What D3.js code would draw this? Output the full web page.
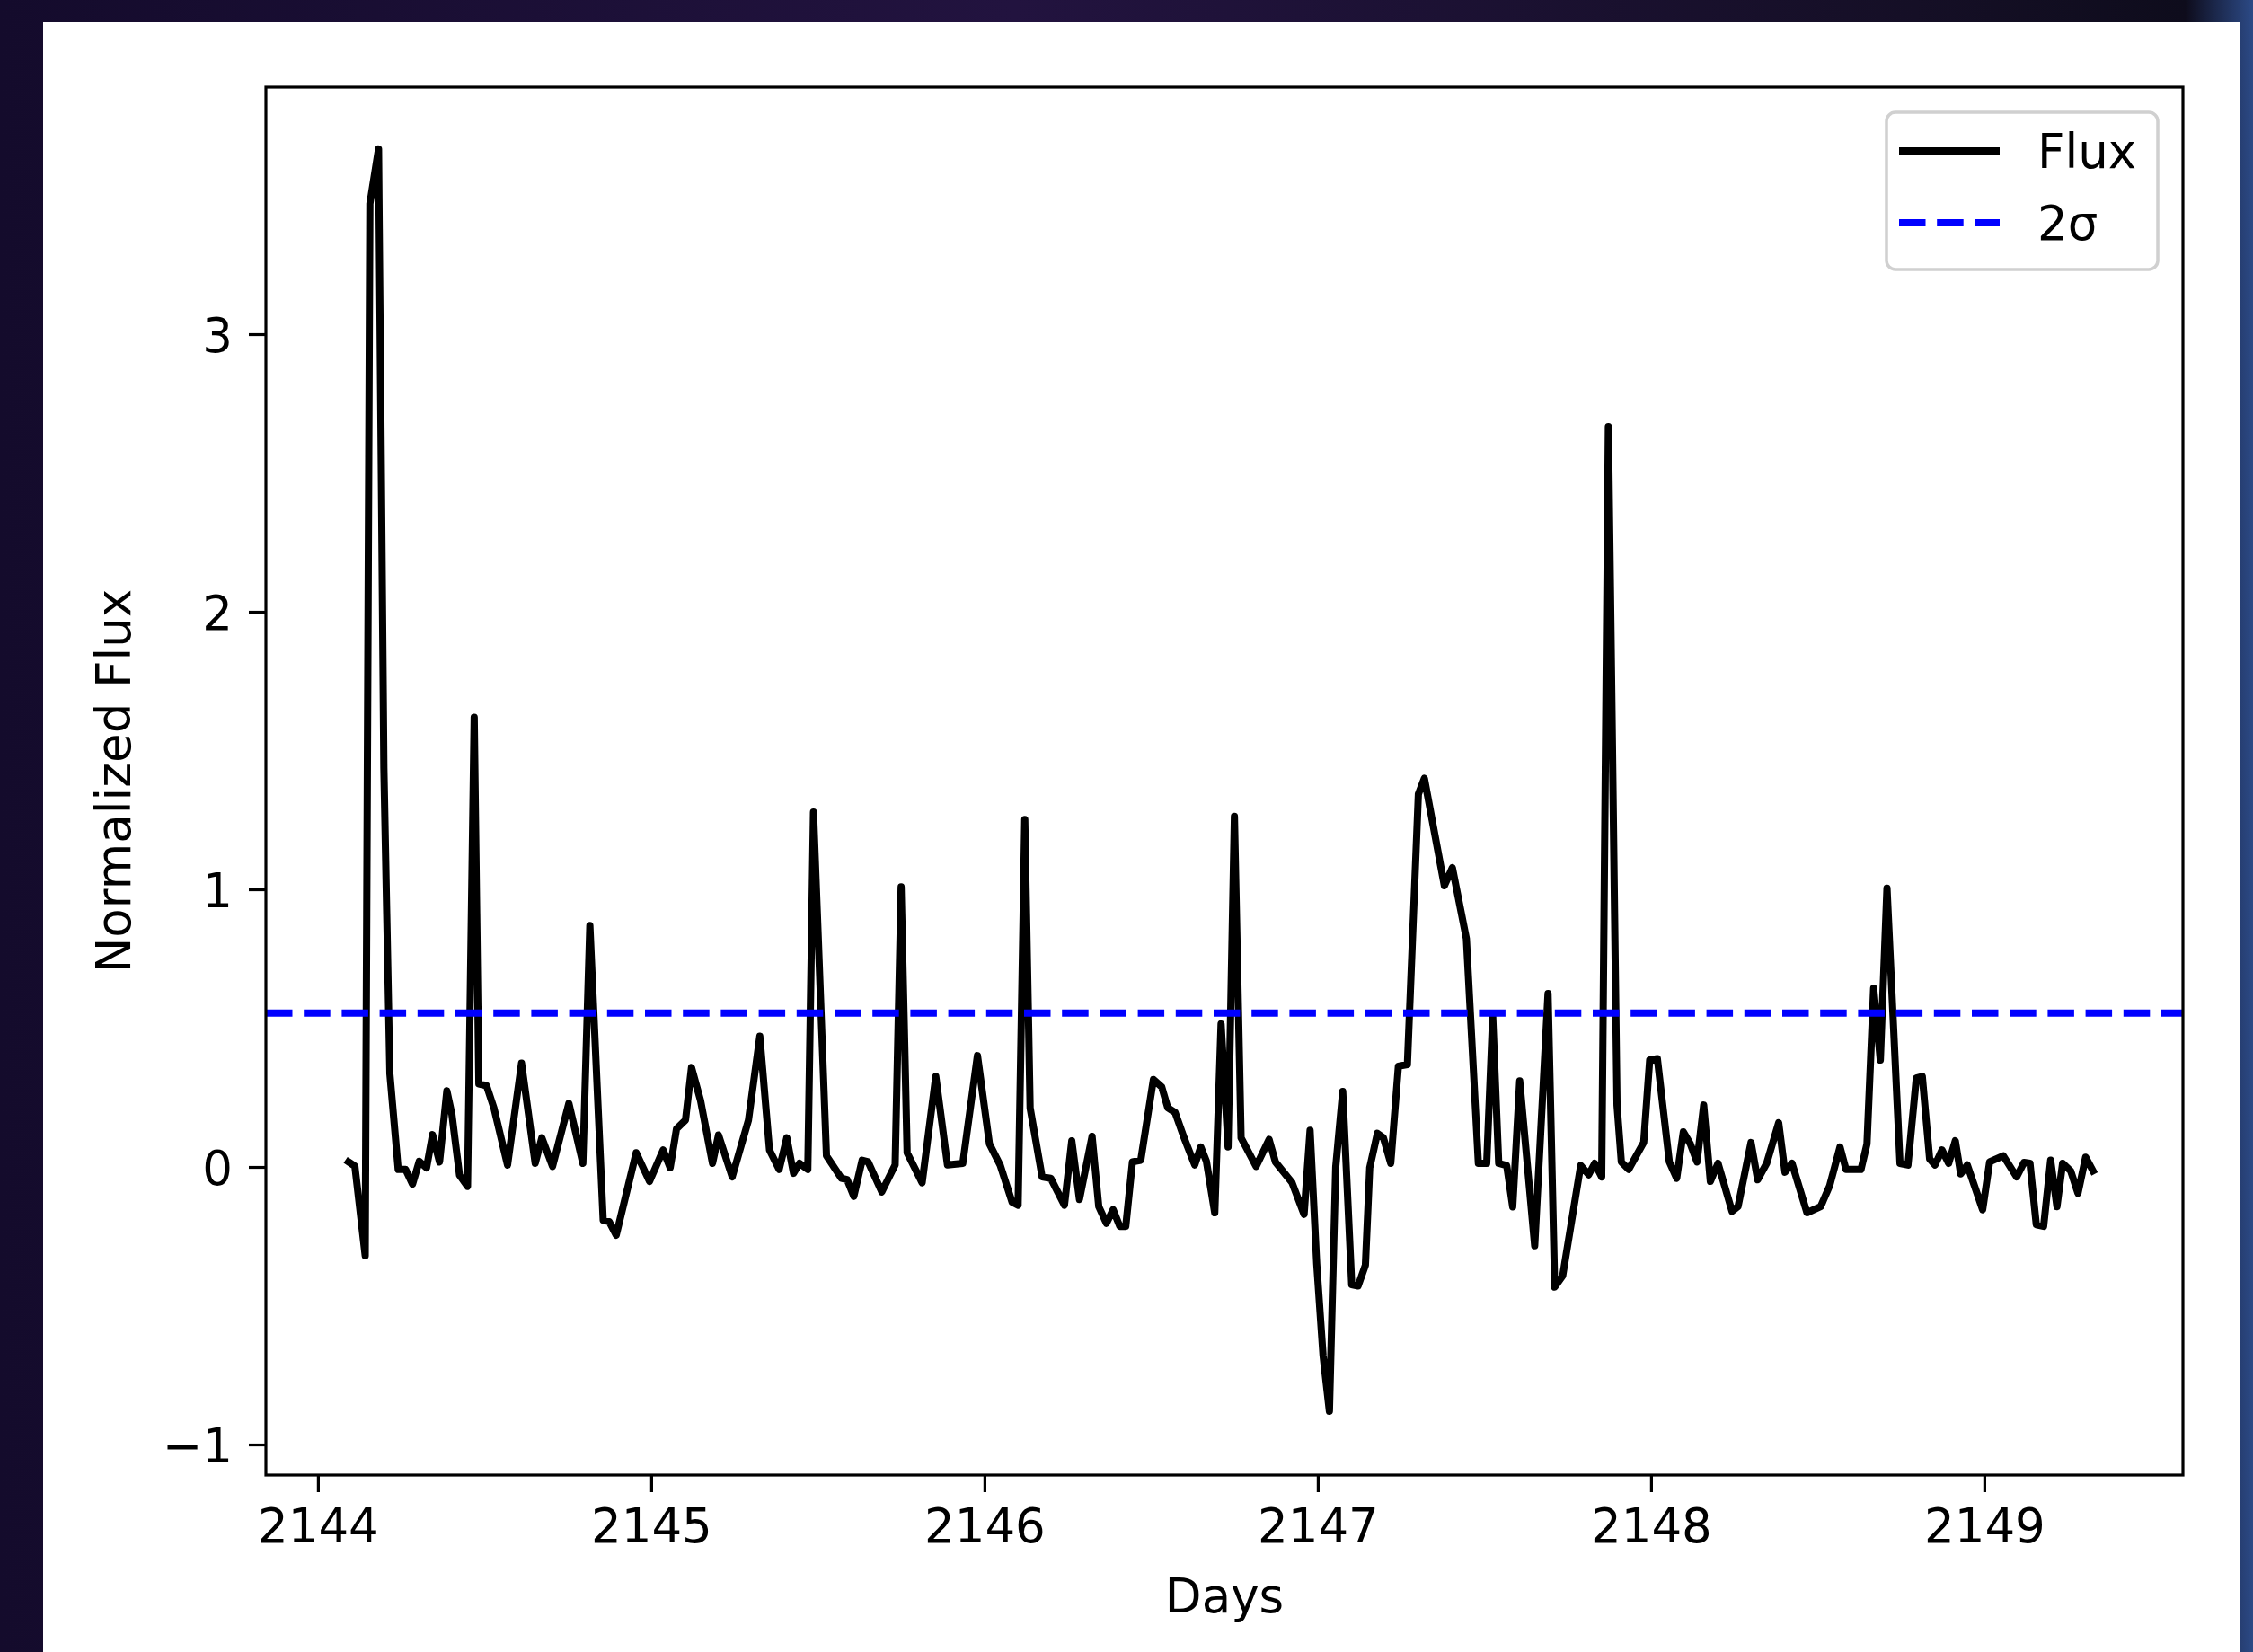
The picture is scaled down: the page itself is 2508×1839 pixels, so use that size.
<!DOCTYPE html>
<html>
<head>
<meta charset="utf-8">
<script src="https://cdn.jsdelivr.net/npm/d3@7"></script>
<style>
  html, body { margin: 0; padding: 0; background: #120b24; }
  svg { display: block; }
</style>
</head>
<body>
<svg id="chart" width="2508" height="1839"></svg>
<script>
// Light-curve samples: time (days) and normalized flux
const days = [
  2144.092, 2144.111, 2144.142, 2144.156, 2144.182, 2144.198, 2144.216, 2144.241, 2144.263, 2144.284,
  2144.304, 2144.326, 2144.344, 2144.365, 2144.387, 2144.402, 2144.425, 2144.449, 2144.469, 2144.483,
  2144.506, 2144.528, 2144.569, 2144.611, 2144.652, 2144.672, 2144.704, 2144.753, 2144.795, 2144.816,
  2144.856, 2144.874, 2144.895, 2144.955, 2144.995, 2145.036, 2145.057, 2145.076, 2145.103, 2145.121,
  2145.148, 2145.184, 2145.202, 2145.243, 2145.292, 2145.326, 2145.355, 2145.384, 2145.407, 2145.427,
  2145.445, 2145.470, 2145.487, 2145.526, 2145.571, 2145.588, 2145.608, 2145.633, 2145.651, 2145.692,
  2145.732, 2145.750, 2145.768, 2145.813, 2145.854, 2145.889, 2145.935, 2145.979, 2146.015, 2146.047,
  2146.083, 2146.101, 2146.121, 2146.137, 2146.173, 2146.199, 2146.240, 2146.262, 2146.285, 2146.323,
  2146.343, 2146.366, 2146.386, 2146.406, 2146.424, 2146.444, 2146.469, 2146.507, 2146.532, 2146.550,
  2146.572, 2146.599, 2146.631, 2146.649, 2146.666, 2146.691, 2146.710, 2146.731, 2146.750, 2146.770,
  2146.815, 2146.854, 2146.873, 2146.923, 2146.959, 2146.977, 2146.997, 2147.016, 2147.035, 2147.054,
  2147.075, 2147.102, 2147.121, 2147.143, 2147.156, 2147.179, 2147.197, 2147.219, 2147.242, 2147.269,
  2147.302, 2147.320, 2147.380, 2147.404, 2147.446, 2147.482, 2147.507, 2147.525, 2147.543, 2147.567,
  2147.585, 2147.606, 2147.651, 2147.691, 2147.711, 2147.735, 2147.789, 2147.813, 2147.831, 2147.852,
  2147.872, 2147.898, 2147.911, 2147.933, 2147.978, 2147.996, 2148.019, 2148.055, 2148.077, 2148.097,
  2148.118, 2148.138, 2148.158, 2148.178, 2148.201, 2148.243, 2148.261, 2148.300, 2148.320, 2148.347,
  2148.383, 2148.402, 2148.423, 2148.468, 2148.509, 2148.536, 2148.567, 2148.585, 2148.630, 2148.648,
  2148.668, 2148.688, 2148.708, 2148.747, 2148.771, 2148.796, 2148.814, 2148.836, 2148.852, 2148.873,
  2148.893, 2148.913, 2148.929, 2148.949, 2148.995, 2149.016, 2149.057, 2149.097, 2149.119, 2149.137,
  2149.156, 2149.178, 2149.199, 2149.218, 2149.235, 2149.259, 2149.281, 2149.304, 2149.326
];
const flux = [
  0.018, 0.003, -0.320, 3.470, 3.667, 1.437, 0.335, -0.009, -0.009, -0.062,
  0.020, -0.003, 0.116, 0.018, 0.274, 0.190, -0.030, -0.070, 1.620, 0.299,
  0.293, 0.213, 0.007, 0.374, 0.013, 0.105, 0.002, 0.229, 0.013, 0.870,
  -0.192, -0.197, -0.246, 0.051, -0.052, 0.061, -0.003, 0.137, 0.169, 0.358,
  0.240, 0.013, 0.115, -0.036, 0.169, 0.471, 0.061, -0.009, 0.105, -0.023,
  0.013, -0.009, 1.278, 0.040, -0.041, -0.046, -0.106, 0.024, 0.018, -0.090,
  0.007, 1.009, 0.051, -0.057, 0.326, 0.007, 0.013, 0.401, 0.083, 0.007,
  -0.127, -0.138, 1.252, 0.213, -0.036, -0.041, -0.138, 0.094, -0.117, 0.110,
  -0.143, -0.203, -0.154, -0.214, -0.214, 0.018, 0.024, 0.315, 0.288, 0.213,
  0.196, 0.105, 0.007, 0.072, 0.020, -0.165, 0.515, 0.072, 1.263, 0.105,
  0.002, 0.099, 0.018, -0.057, -0.171, 0.132, -0.350, -0.680, -0.880, 0.000,
  0.272, -0.424, -0.429, -0.354, -0.003, 0.121, 0.105, 0.013, 0.363, 0.369,
  1.343, 1.400, 1.013, 1.078, 0.822, 0.013, 0.013, 0.542, 0.013, 0.005,
  -0.144, 0.310, -0.284, 0.625, -0.433, -0.392, 0.005, -0.028, 0.013, -0.036,
  2.667, 0.223, 0.018, -0.009, 0.088, 0.385, 0.390, 0.018, -0.041, 0.126,
  0.083, 0.018, 0.223, -0.052, 0.013, -0.160, -0.143, 0.088, -0.046, 0.013,
  0.159, -0.019, 0.013, -0.165, -0.143, -0.068, 0.072, -0.009, -0.009, 0.083,
  0.644, 0.385, 1.004, 0.013, 0.007, 0.320, 0.326, 0.029, 0.007, 0.061,
  0.013, 0.094, -0.025, 0.007, -0.154, 0.018, 0.040, -0.036, 0.016, 0.013,
  -0.208, -0.214, 0.024, -0.143, 0.013, -0.014, -0.095, 0.035, -0.014
];
// 2-sigma threshold level
const sigmaLevel = [0.554];

// Axis ticks and legend entries
const xTicks = [2144, 2145, 2146, 2147, 2148, 2149];
const yTicks = [-1, 0, 1, 2, 3];
const legendLabels = ["Flux", "2σ"];

const svg = d3.select("#chart");
const W = 2508, H = 1839;

// Backdrop
const defs = svg.append("defs");
const bg = defs.append("linearGradient").attr("id", "bg")
  .attr("x1", "0").attr("y1", "0").attr("x2", "1").attr("y2", "0");
bg.append("stop").attr("offset", "0").attr("stop-color", "#140b2c");
bg.append("stop").attr("offset", "0.45").attr("stop-color", "#22133f");
bg.append("stop").attr("offset", "0.85").attr("stop-color", "#150f26");
bg.append("stop").attr("offset", "0.97").attr("stop-color", "#0e0c1c");
bg.append("stop").attr("offset", "1").attr("stop-color", "#2c4a86");
svg.append("rect").attr("width", W).attr("height", H).attr("fill", "url(#bg)");

// Figure panel
svg.append("rect").attr("x", 48).attr("y", 24).attr("width", 2446).attr("height", H - 24)
  .attr("fill", "#ffffff");

const plot = { left: 296, right: 2430, top: 97, bottom: 1642 };
const font = "'DejaVu Sans', sans-serif";
const fs = 53;

const x = d3.scaleLinear().domain([2143.844, 2149.596]).range([plot.left, plot.right]);
const y = d3.scaleLinear().domain([-1.110, 3.890]).range([plot.bottom, plot.top]);

const clip = defs.append("clipPath").attr("id", "plotclip");
clip.append("rect").attr("x", plot.left).attr("y", plot.top)
  .attr("width", plot.right - plot.left).attr("height", plot.bottom - plot.top);

const g = svg.append("g").attr("clip-path", "url(#plotclip)");

// Flux curve
const pts = days.map((d, i) => [d, flux[i]]);
g.append("path")
  .attr("d", d3.line().x(d => x(d[0])).y(d => y(d[1]))(pts))
  .attr("fill", "none").attr("stroke", "#000").attr("stroke-width", 8)
  .attr("stroke-linejoin", "round").attr("stroke-linecap", "square");

// 2σ threshold line
g.selectAll("line.sigma").data(sigmaLevel).enter().append("line")
  .attr("class", "sigma")
  .attr("x1", plot.left).attr("x2", plot.right)
  .attr("y1", d => y(d)).attr("y2", d => y(d))
  .attr("stroke", "#0000ff").attr("stroke-width", 8)
  .attr("stroke-dasharray", "29.5,12.7");

// Axes
const xAxis = d3.axisBottom(x).tickValues(xTicks).tickSize(19).tickPadding(18)
  .tickFormat(d3.format("d"));
const yAxis = d3.axisLeft(y).tickValues(yTicks).tickSize(19).tickPadding(18)
  .tickFormat(d => d < 0 ? "\u2212" + Math.abs(d) : String(d));

const gx = svg.append("g").attr("transform", `translate(0,${plot.bottom})`).call(xAxis);
const gy = svg.append("g").attr("transform", `translate(${plot.left},0)`).call(yAxis);
[gx, gy].forEach(ax => {
  ax.select(".domain").remove();
  ax.selectAll(".tick line").attr("stroke", "#000").attr("stroke-width", 3.2);
  ax.selectAll(".tick text").attr("fill", "#000").attr("font-family", font).attr("font-size", fs);
});
gx.selectAll(".tick text").attr("dy", "0.72em");
gy.selectAll(".tick text").attr("dy", "0.36em");

// Frame
svg.append("rect").attr("x", plot.left).attr("y", plot.top)
  .attr("width", plot.right - plot.left).attr("height", plot.bottom - plot.top)
  .attr("fill", "none").attr("stroke", "#000").attr("stroke-width", 3.2);

// Axis titles
svg.append("text").attr("x", (plot.left + plot.right) / 2).attr("y", 1795)
  .attr("text-anchor", "middle").attr("font-family", font).attr("font-size", fs)
  .attr("fill", "#000").text("Days");
svg.append("text")
  .attr("transform", `translate(145,${(plot.top + plot.bottom) / 2}) rotate(-90)`)
  .attr("text-anchor", "middle").attr("font-family", font).attr("font-size", fs)
  .attr("fill", "#000").text("Normalized Flux");

// Legend
const lg = svg.append("g");
lg.append("rect").attr("x", 2100).attr("y", 125).attr("width", 302).attr("height", 175)
  .attr("rx", 10).attr("ry", 10)
  .attr("fill", "#ffffff").attr("fill-opacity", 0.8)
  .attr("stroke", "#d0d0d0").attr("stroke-width", 3.5);
const legendStyles = [
  { color: "#000", dash: null },
  { color: "#0000ff", dash: "29.5,12.7" }
];
legendLabels.forEach((lab, i) => {
  const cy = 168 + i * 80;
  lg.append("line").attr("x1", 2114).attr("x2", 2226).attr("y1", cy).attr("y2", cy)
    .attr("stroke", legendStyles[i].color).attr("stroke-width", 8)
    .attr("stroke-dasharray", legendStyles[i].dash);
  lg.append("text").attr("x", 2268).attr("y", cy).attr("dy", "0.36em")
    .attr("font-family", font).attr("font-size", fs).attr("fill", "#000").text(lab);
});
</script>
</body>
</html>
